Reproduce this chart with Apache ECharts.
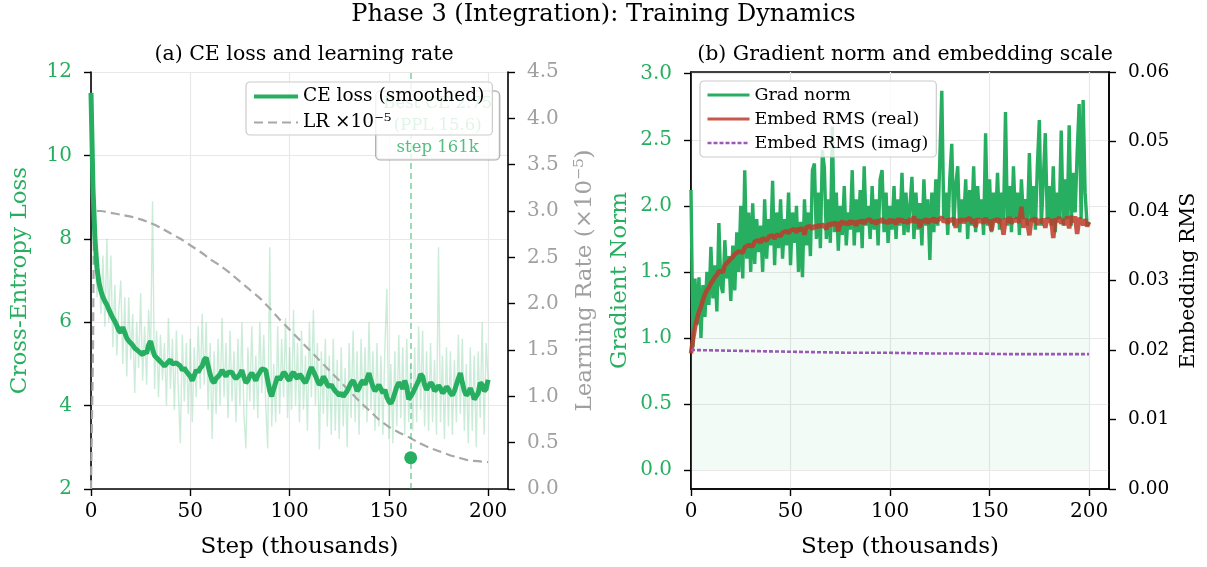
<!DOCTYPE html>
<html>
<head>
<meta charset="utf-8">
<script src="https://cdn.jsdelivr.net/npm/echarts@6/dist/echarts.min.js"></script>
<style>
  html, body { margin: 0; padding: 0; background: #fff; }
  #main { width: 1207px; height: 567px; }
</style>
</head>
<body>
<div id="main"></div>
<script>
// values, one per 1k steps (0..200k)
var rawLoss = [11.5,8.6,7.9,6.6,7.4,6.2,7.6,5.9,8.0,6.0,7.6,5.4,6.9,5.2,6.3,7.0,5.0,6.6,4.7,6.6,
  5.1,6.2,4.3,6.0,4.9,6.7,4.6,5.9,4.5,6.3,5.2,8.9,4.4,5.8,4.2,5.7,4.6,5.5,4.0,6.1,
  4.4,5.6,3.9,5.8,4.3,3.1,5.7,4.1,5.5,3.8,5.6,3.6,5.4,4.2,5.9,4.4,6.2,4.5,6.0,3.9,
  5.5,3.2,5.3,3.8,5.6,4.0,6.1,4.2,5.5,3.7,5.8,4.1,5.3,3.6,5.6,4.0,6.0,3.8,2.97,5.4,
  4.1,5.9,3.9,5.2,3.7,6.0,4.3,5.7,4.0,2.97,7.8,3.5,5.0,3.6,5.9,3.8,5.6,4.2,6.1,3.7,
  5.4,3.9,6.3,4.0,5.5,3.6,5.8,3.9,5.2,3.4,6.0,4.2,6.3,4.0,5.5,2.95,5.3,3.8,5.6,3.5,
  5.2,3.3,5.6,3.4,5.1,3.2,5.4,3.5,4.9,3.0,5.5,3.7,5.8,3.6,5.3,3.3,5.6,3.9,5.4,3.6,
  6.0,3.9,5.3,3.4,5.5,3.5,5.2,3.3,5.4,6.8,3.2,5.0,3.1,5.3,3.5,5.7,3.7,5.4,3.3,5.6,
  3.6,5.0,3.4,5.4,3.6,5.9,3.9,5.8,3.5,5.3,3.4,5.5,3.6,5.1,3.3,7.8,3.6,5.2,3.2,5.4,
  3.5,5.3,3.3,5.1,3.6,5.7,3.8,5.6,3.4,5.0,3.1,5.4,3.4,5.2,3.0,5.3,3.7,6.0,3.3,5.5,4.6];

var smoothLoss = [11.5,9.2,8.0,7.3,6.95,6.75,6.6,6.5,6.42,6.3,6.2,6.1,6.02,5.92,5.8,5.75,5.88,5.85,5.62,5.55,
  5.5,5.45,5.38,5.35,5.3,5.28,5.22,5.3,5.25,5.45,5.55,5.35,5.2,5.15,5.1,5.05,5.0,4.95,4.92,5.05,
  5.1,5.0,4.98,5.02,5.05,4.95,4.85,4.9,4.82,4.78,4.7,4.6,4.72,4.85,4.8,4.9,4.95,5.1,5.15,4.95,
  4.75,4.6,4.55,4.65,4.7,4.75,4.85,4.78,4.7,4.8,4.82,4.8,4.7,4.65,4.7,4.75,4.85,4.68,4.55,4.6,
  4.72,4.78,4.7,4.6,4.72,4.8,4.88,4.9,4.85,4.6,4.35,4.22,4.4,4.55,4.7,4.62,4.7,4.8,4.75,4.65,
  4.6,4.75,4.8,4.7,4.65,4.75,4.7,4.6,4.55,4.65,4.8,4.92,4.9,4.72,4.6,4.5,4.55,4.7,4.62,4.5,
  4.45,4.5,4.42,4.35,4.3,4.25,4.3,4.22,4.2,4.35,4.45,4.55,4.6,4.5,4.35,4.42,4.55,4.6,4.5,4.65,
  4.78,4.6,4.45,4.35,4.42,4.5,4.4,4.3,4.38,4.2,4.1,4.05,4.15,4.3,4.45,4.55,4.5,4.4,4.6,4.45,
  4.15,4.12,4.3,4.4,4.5,4.6,4.75,4.7,4.5,4.38,4.42,4.55,4.5,4.35,4.4,4.48,4.42,4.3,4.35,4.45,
  4.4,4.3,4.25,4.35,4.5,4.65,4.78,4.55,4.35,4.25,4.3,4.42,4.3,4.15,4.12,4.3,4.55,4.5,4.35,4.4,4.62];

var lrSteps = [0,1,2,5,10,15,20,25,30,35,40,45,50,55,60,65,70,75,80,85,90,95,100,105,110,115,120,125,130,135,140,145,150,155,160,165,170,175,180,185,190,195,200];
var lrValues = [0,1.5,3.0,3.0,2.98,2.96,2.94,2.91,2.87,2.82,2.76,2.7,2.63,2.56,2.48,2.41,2.33,2.24,2.15,2.06,1.95,1.83,1.72,1.61,1.5,1.39,1.28,1.17,1.06,0.95,0.85,0.75,0.67,0.61,0.56,0.5,0.45,0.41,0.37,0.34,0.31,0.3,0.29];

var gradNorm = [2.12,0.93,1.45,1.1,1.46,1.0,1.4,1.16,1.5,1.25,1.69,1.3,1.55,1.2,1.87,1.4,1.34,1.74,1.45,1.62,
  1.28,1.7,1.36,1.8,1.5,2.0,1.45,2.27,1.6,1.95,1.5,2.02,1.56,1.9,1.65,1.85,1.5,2.05,1.6,1.9,
  1.7,2.19,1.55,1.95,1.68,2.05,1.6,1.9,1.7,2.1,1.55,1.95,1.72,2.0,1.5,1.88,1.46,2.05,1.7,1.95,
  1.62,2.27,2.32,1.75,2.1,1.68,2.42,2.29,1.75,2.05,1.72,2.6,1.8,2.1,1.66,2.0,1.78,2.15,1.7,1.95,
  1.82,2.27,1.7,2.05,1.8,2.12,1.68,2.3,1.85,2.0,1.75,2.15,1.82,2.05,1.7,2.2,2.27,1.8,2.1,1.72,
  2.0,1.82,2.15,1.75,2.05,1.85,2.25,1.78,2.1,1.8,2.0,2.22,1.75,2.1,1.82,2.02,1.7,2.2,1.85,2.05,
  1.59,2.1,1.8,2.2,1.85,2.35,2.87,1.9,2.1,1.78,2.2,2.47,1.85,2.15,2.3,1.8,2.05,1.88,2.2,1.75,
  2.12,1.85,2.3,1.8,2.15,1.9,2.05,1.78,2.55,1.85,2.2,1.8,2.1,1.88,2.25,1.82,2.1,1.9,2.71,1.85,
  2.15,1.8,2.3,1.9,2.1,1.78,2.2,1.9,2.05,1.85,2.4,1.88,2.15,1.82,2.3,2.65,1.85,2.2,2.55,1.9,
  2.15,1.85,2.3,1.8,2.1,1.9,2.57,1.85,2.2,1.9,2.61,1.85,2.25,1.95,2.4,2.77,1.9,2.8,2.1,1.85,1.88];

var embedReal = [0.0195,0.0215,0.0232,0.0245,0.0255,0.0262,0.0272,0.0280,0.0286,0.0290,0.0296,0.0300,0.0305,0.0308,0.0314,0.0316,0.0312,0.0322,0.0325,0.0328,
  0.0331,0.0334,0.0338,0.0336,0.0342,0.0344,0.0340,0.0348,0.0347,0.0351,0.0353,0.0349,0.0356,0.0355,0.0358,0.0354,0.0361,0.0360,0.0357,0.0363,
  0.0362,0.0365,0.0360,0.0366,0.0368,0.0364,0.0369,0.0367,0.0371,0.0368,0.0372,0.0370,0.0374,0.0369,0.0375,0.0372,0.0376,0.0366,0.0377,0.0375,
  0.0378,0.0374,0.0379,0.0376,0.0380,0.0377,0.0381,0.0378,0.0374,0.0382,0.0379,0.0383,0.0380,0.0384,0.0371,0.0382,0.0385,0.0381,0.0384,0.0380,
  0.0386,0.0382,0.0385,0.0379,0.0386,0.0383,0.0387,0.0382,0.0386,0.0384,0.0388,0.0383,0.0386,0.0381,0.0387,0.0384,0.0389,0.0383,0.0386,0.0382,
  0.0388,0.0384,0.0387,0.0381,0.0389,0.0385,0.0388,0.0383,0.0387,0.0382,0.0389,0.0384,0.0392,0.0383,0.0388,0.0376,0.0387,0.0384,0.0389,0.0382,
  0.0388,0.0385,0.0390,0.0383,0.0387,0.0385,0.0391,0.0384,0.0388,0.0382,0.0389,0.0385,0.0390,0.0376,0.0388,0.0384,0.0389,0.0383,0.0387,0.0385,
  0.0390,0.0383,0.0388,0.0377,0.0389,0.0384,0.0388,0.0382,0.0390,0.0384,0.0387,0.0372,0.0388,0.0385,0.0389,0.0383,0.0388,0.0366,0.0389,0.0384,
  0.0391,0.0382,0.0388,0.0385,0.0390,0.0383,0.0406,0.0376,0.0388,0.0384,0.0365,0.0389,0.0385,0.0390,0.0380,0.0388,0.0383,0.0389,0.0376,0.0390,
  0.0384,0.0388,0.0361,0.0389,0.0385,0.0391,0.0382,0.0388,0.0380,0.0392,0.0375,0.0393,0.0384,0.0392,0.0367,0.0390,0.0385,0.0380,0.0388,0.0378,0.0384];

var imagSteps = [0,20,40,60,80,100,120,140,160,180,200];
var imagValues = [0.0200,0.0199,0.0198,0.0197,0.0196,0.0196,0.0195,0.0195,0.0194,0.0194,0.0194];

var bestStep = 161, bestCE = 2.75, bestPPL = 15.6;
var xTicks = [0, 50, 100, 150, 200];
var gradTicks = [0, 0.5, 1.0, 1.5, 2.0, 2.5, 3.0];

var GREEN = '#27ae60';
var FONT = 'DejaVu Serif';

function pairs(xs, ys) {
    var out = [];
    for (var i = 0; i < ys.length; i++) out.push([xs[i], ys[i]]);
    return out;
}
var steps = [];
for (var i = 0; i < smoothLoss.length; i++) steps.push(i);

var myChart = echarts.init(document.getElementById('main'), null, {renderer: 'canvas'});

var gridLine = {show: true, lineStyle: {color: '#e8e8e8', width: 1.2}};
var blackLine = {show: true, onZero: false, lineStyle: {color: '#000', width: 1.6}};
var blackTick = {show: true, length: 7, lineStyle: {color: '#000', width: 1.4}};

function xAxisFor(idx) {
    return {
        type: 'value', gridIndex: idx, min: 0, max: 210,
        name: 'Step (thousands)', nameLocation: 'middle', nameGap: 47,
        nameTextStyle: {fontFamily: FONT, fontSize: 23, color: '#000'},
        axisLine: blackLine,
        axisTick: {show: true, length: 7, lineStyle: {color: '#000', width: 1.4}, customValues: xTicks},
        axisLabel: {fontFamily: FONT, fontSize: 20, color: '#000', margin: 13, customValues: xTicks},
        splitLine: gridLine
    };
}

var option = {
    animation: false,
    backgroundColor: '#fff',
    textStyle: {fontFamily: FONT},
    title: [
        {text: 'Phase 3 (Integration): Training Dynamics', left: 'center', top: -2,
         textStyle: {fontFamily: FONT, fontSize: 24, fontWeight: 'normal', color: '#000'}},
        {text: '(a) CE loss and learning rate', left: 299, top: 39, textAlign: 'center',
         textStyle: {fontFamily: FONT, fontSize: 20.5, fontWeight: 'normal', color: '#000'}},
        {text: '(b) Gradient norm and embedding scale', left: 900, top: 39, textAlign: 'center',
         textStyle: {fontFamily: FONT, fontSize: 20.5, fontWeight: 'normal', color: '#000'}}
    ],
    legend: [
        {
            orient: 'vertical', left: 246, top: 82, padding: [5, 8, 3, 6], itemGap: 7,
            itemWidth: 44, itemHeight: 14,
            backgroundColor: 'rgba(255,255,255,0.82)', borderColor: '#cccccc', borderWidth: 1.2, borderRadius: 4,
            itemStyle: {opacity: 0},
            textStyle: {fontFamily: FONT, fontSize: 18.5, color: '#000'},
            data: [
                {name: 'CE loss (smoothed)', lineStyle: {width: 4}},
                {name: 'LR ×10⁻⁵', lineStyle: {width: 2.2}}
            ], z: 10
        },
        {
            orient: 'vertical', left: 700, top: 81, padding: [5, 8, 5, 6], itemGap: 6,
            itemWidth: 42, itemHeight: 14,
            backgroundColor: 'rgba(255,255,255,0.82)', borderColor: '#cccccc', borderWidth: 1.2, borderRadius: 4,
            itemStyle: {opacity: 0},
            textStyle: {fontFamily: FONT, fontSize: 17.5, color: '#000'},
            data: [
                {name: 'Grad norm', lineStyle: {width: 3}},
                {name: 'Embed RMS (real)', lineStyle: {width: 3}},
                {name: 'Embed RMS (imag)', lineStyle: {width: 2.6}}
            ], z: 10
        }
    ],
    grid: [
        {left: 91, right: 699, top: 72, bottom: 78},
        {left: 691, right: 98, top: 72, bottom: 78, show: true, borderColor: '#000', borderWidth: 1.6, backgroundColor: 'transparent'}
    ],
    xAxis: [xAxisFor(0), xAxisFor(1)],
    yAxis: [
        {
            type: 'value', gridIndex: 0, min: 2, max: 12, interval: 2, position: 'left',
            name: 'Cross-Entropy Loss', nameLocation: 'middle', nameGap: 59, nameRotate: 90,
            nameTextStyle: {fontFamily: FONT, fontSize: 23, color: GREEN},
            axisLine: blackLine, axisTick: blackTick,
            axisLabel: {fontFamily: FONT, fontSize: 20, color: GREEN, margin: 19},
            splitLine: gridLine
        },
        {
            type: 'value', gridIndex: 0, min: 0, max: 4.5, interval: 0.5, position: 'right',
            name: 'Learning Rate (×10⁻⁵)', nameLocation: 'middle', nameGap: 66, nameRotate: 90,
            nameTextStyle: {fontFamily: FONT, fontSize: 23, color: '#a0a0a0'},
            axisLine: blackLine, axisTick: blackTick,
            axisLabel: {fontFamily: FONT, fontSize: 20, color: '#a0a0a0', margin: 19,
                        formatter: function (v) { return v.toFixed(1); }},
            splitLine: {show: false}
        },
        {
            type: 'value', gridIndex: 1, min: -0.143, max: 3.013, position: 'left',
            name: 'Gradient Norm', nameLocation: 'middle', nameGap: 59, nameRotate: 90,
            nameTextStyle: {fontFamily: FONT, fontSize: 23, color: GREEN},
            axisLine: blackLine,
            axisTick: {show: true, length: 7, lineStyle: {color: '#000', width: 1.4}, customValues: gradTicks},
            axisLabel: {fontFamily: FONT, fontSize: 20, color: GREEN, margin: 19, customValues: gradTicks,
                        formatter: function (v) { return v.toFixed(1); }},
            splitLine: gridLine
        },
        {
            type: 'value', gridIndex: 1, min: 0, max: 0.06, interval: 0.01, position: 'right',
            name: 'Embedding RMS', nameLocation: 'middle', nameGap: 69, nameRotate: 90,
            nameTextStyle: {fontFamily: FONT, fontSize: 20.5, color: '#000'},
            axisLine: blackLine, axisTick: blackTick,
            axisLabel: {fontFamily: FONT, fontSize: 18.5, color: '#000', margin: 19,
                        formatter: function (v) { return v.toFixed(2); }},
            splitLine: {show: false}
        }
    ],
    series: [
        {
            name: 'CE loss (raw)', type: 'line', xAxisIndex: 0, yAxisIndex: 0,
            data: pairs(steps, rawLoss), symbol: 'none', silent: true, z: 1,
            lineStyle: {color: 'rgba(39,174,96,0.24)', width: 1.4}
        },
        {
            name: 'LR ×10⁻⁵', type: 'line', xAxisIndex: 0, yAxisIndex: 1,
            data: pairs(lrSteps, lrValues), symbol: 'none', smooth: 0.2, z: 2,
            itemStyle: {color: '#a8a8a8'},
            lineStyle: {color: '#a8a8a8', width: 2.2, type: [9, 5]}
        },
        {
            name: 'CE loss (smoothed)', type: 'line', xAxisIndex: 0, yAxisIndex: 0,
            data: pairs(steps, smoothLoss), symbol: 'none', z: 3,
            itemStyle: {color: GREEN},
            lineStyle: {color: GREEN, width: 5},
            markLine: {
                silent: true, symbol: 'none', label: {show: false},
                lineStyle: {color: 'rgba(39,174,96,0.6)', width: 1.5, type: [6, 4]},
                data: [{xAxis: bestStep}]
            }
        },
        {
            name: 'best', type: 'scatter', xAxisIndex: 0, yAxisIndex: 0, z: 4,
            data: [[bestStep, bestCE]], symbolSize: 13, itemStyle: {color: GREEN, opacity: 1}
        },
        {
            name: 'best note', type: 'scatter', xAxisIndex: 0, yAxisIndex: 0, z: 5,
            data: [[174.6, 10.72]], symbolSize: 0, silent: true,
            label: {
                show: true, position: 'inside', fontFamily: FONT, fontSize: 16.5, color: GREEN, lineHeight: 22,
                align: 'center', verticalAlign: 'middle',
                formatter: 'Best CE ' + bestCE.toFixed(2) + '\n(PPL ' + bestPPL.toFixed(1) + ')\nstep ' + bestStep + 'k',
                backgroundColor: '#fff', borderColor: '#999', borderWidth: 1.2, borderRadius: 4,
                padding: [2, 7, 0, 7]
            }
        },
        {
            name: 'Grad norm', type: 'line', xAxisIndex: 1, yAxisIndex: 2,
            data: pairs(steps, gradNorm), symbol: 'none', z: 2,
            itemStyle: {color: GREEN},
            lineStyle: {color: GREEN, width: 3.4},
            areaStyle: {color: 'rgba(39,174,96,0.08)', origin: 0}
        },
        {
            name: 'Embed RMS (real)', type: 'line', xAxisIndex: 1, yAxisIndex: 3,
            data: pairs(steps, embedReal), symbol: 'none', z: 3,
            itemStyle: {color: '#c0392b'},
            lineStyle: {color: 'rgba(192,57,43,0.85)', width: 4.5}
        },
        {
            name: 'Embed RMS (imag)', type: 'line', xAxisIndex: 1, yAxisIndex: 3,
            data: pairs(imagSteps, imagValues), symbol: 'none', z: 3,
            itemStyle: {color: '#9b59b6'},
            lineStyle: {color: '#9b59b6', width: 2.6, type: [4, 2]}
        }
    ]
};
myChart.setOption(option);
</script>
</body>
</html>
